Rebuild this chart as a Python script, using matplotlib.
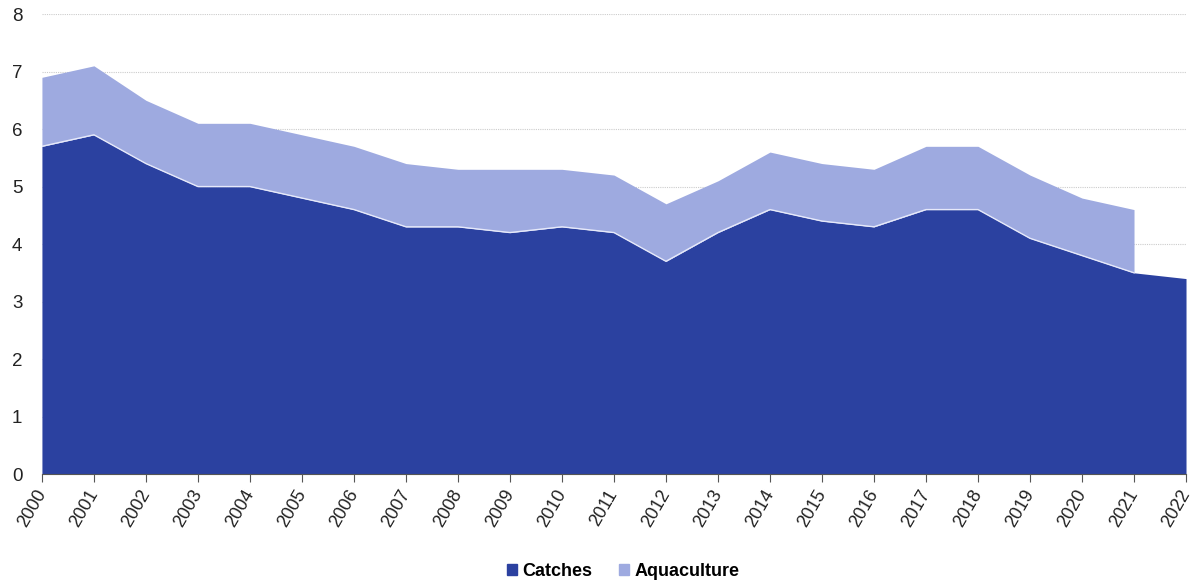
import numpy as np
import matplotlib
matplotlib.use("Agg")
import matplotlib.pyplot as plt
from matplotlib.patches import Patch

plt.rcParams['font.family'] = ['Liberation Sans', 'DejaVu Sans']

years = list(range(2000, 2023))
catches = [5.7, 5.9, 5.4, 5.0, 5.0, 4.8, 4.6, 4.3, 4.3, 4.2, 4.3, 4.2,
           3.7, 4.2, 4.6, 4.4, 4.3, 4.6, 4.6, 4.1, 3.8, 3.5, 3.4]
aquaculture = [1.2, 1.2, 1.1, 1.1, 1.1, 1.1, 1.1, 1.1, 1.0, 1.1, 1.0, 1.0,
               1.0, 0.9, 1.0, 1.0, 1.0, 1.1, 1.1, 1.1, 1.0, 1.1, np.nan]

c_catch = '#2b41a0'
c_aqua = '#9eaae0'

x = np.array(years)
lo = np.array(catches)
hi = lo + np.array(aquaculture)

fig = plt.figure(figsize=(11.98, 5.86), dpi=100)
ax = fig.add_axes([0.035, 0.191, 0.955, 0.785])

ax.fill_between(x, 0, lo, color=c_catch, lw=0)
ax.fill_between(x, lo, hi, color=c_aqua, lw=0)
ax.plot(x[:-1], lo[:-1], color='#e6e9fa', lw=1)

ax.set_xlim(2000, 2022)
ax.set_ylim(0, 8)
ax.set_yticks(range(0, 9))
ax.yaxis.grid(True, linestyle=(0, (1, 1)), color='#cccccc', lw=0.8)
ax.set_axisbelow(True)
for s in ['left', 'right', 'top']:
    ax.spines[s].set_visible(False)
ax.spines['bottom'].set_color('#555555')
ax.spines['bottom'].set_zorder(5)
ax.tick_params(axis='y', length=0, labelsize=13.5, pad=14, colors='#222222')
ax.tick_params(axis='x', length=6, color='#555555', labelsize=13, colors='#222222',
               pad=6)
ax.set_xticks(years)
ax.set_xticklabels([str(y) for y in years], rotation=60, ha='right', va='center',
                   rotation_mode='anchor')

handles = [Patch(color=c_catch, label='Catches'), Patch(color=c_aqua, label='Aquaculture')]
fig.legend(handles=handles, loc='center', bbox_to_anchor=(0.52, 0.025), ncol=2,
           frameon=False, handlelength=0.55, handleheight=0.55, handletextpad=0.3,
           columnspacing=1.5, prop={'weight': 'bold', 'size': 13})

fig.savefig('out.png', dpi=100)
